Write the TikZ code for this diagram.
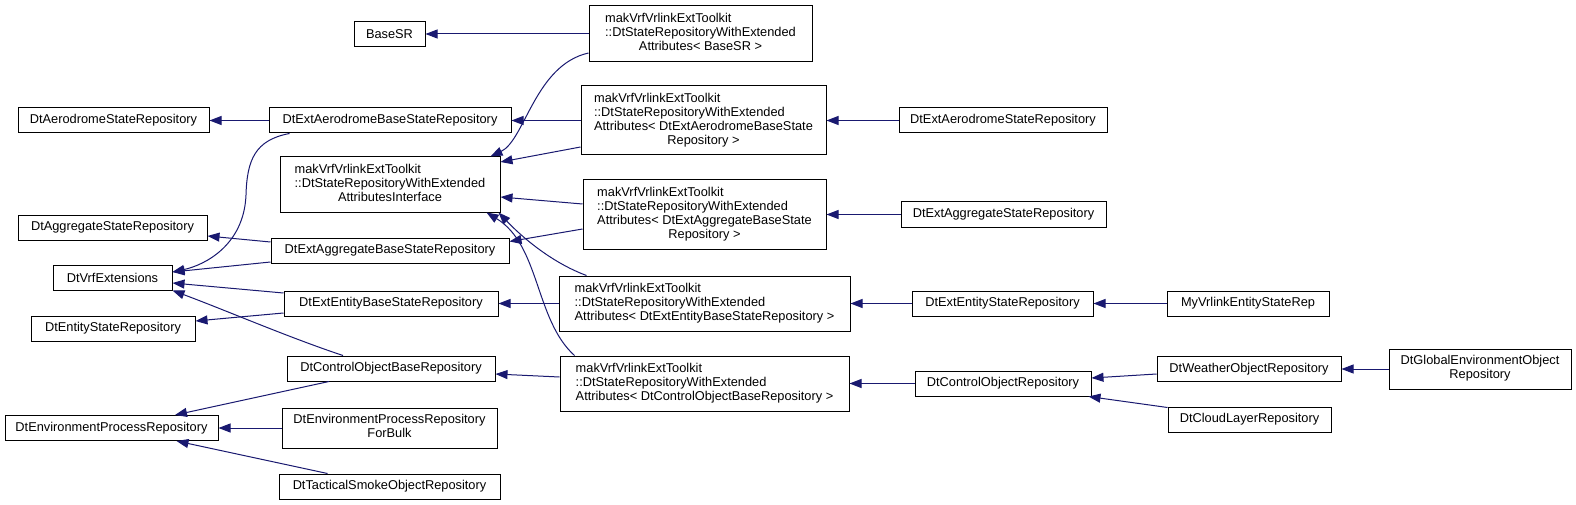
\documentclass[tikz,border=0pt]{standalone}
\usepackage{fontspec}
\setmainfont{Liberation Sans}
\usetikzlibrary{arrows.meta}
\definecolor{edgeblue}{RGB}{25,25,112}
\newcommand{\midline}[1]{\multicolumn{1}{@{}c@{}}{#1}}
\newcommand{\tplbox}[1]{\begin{tabular}{@{}l@{}}makVrfVrlinkExtToolkit\\::DtStateRepositoryWithExtended\\#1\end{tabular}}

\begin{document}
\begin{tikzpicture}[x=1pt, y=-1pt,
    cls/.style={draw=black, fill=white, line width=1pt, inner sep=0pt,
      minimum height=25pt, font=\fontsize{12.8}{14}\selectfont},
    inh/.style={draw=edgeblue, line width=1pt,
      -{Triangle[length=12pt, width=9pt]}}]
          \useasboundingbox (0,0) rectangle (1576,505);
          \fill[white] (0,0) rectangle (1576,505);
          \node[cls, minimum width=71pt] (basesr) at (389.5,34) {BaseSR};
          \node[cls, minimum width=223pt, minimum height=56pt] (tplbase) at (700.5,34)
            {\tplbox{\midline{Attributes< BaseSR >}}};
          \node[cls, minimum width=191pt] (aerostate) at (113.5,120.5)
            {DtAerodromeStateRepository};
          \node[cls, minimum width=242pt] (aerobase) at (390,120.5)
            {DtExtAerodromeBaseStateRepository};
          \node[cls, minimum width=245pt, minimum height=69pt] (tplaero) at (703.5,120.5)
            {\tplbox{Attributes< DtExtAerodromeBaseState\\\midline{Repository >}}};
          \node[cls, minimum width=208pt] (extaero) at (1003,120.5)
            {DtExtAerodromeStateRepository};
          \node[cls, minimum width=220pt, minimum height=55pt] (iface) at (390,184.5)
            {\tplbox{\midline{AttributesInterface}}};
          \node[cls, minimum width=189pt] (aggstate) at (112.5,227.5)
            {DtAggregateStateRepository};
          \node[cls, minimum width=238pt] (aggbase) at (390,250.5)
            {DtExtAggregateBaseStateRepository};
          \node[cls, minimum width=243pt, minimum height=69pt] (tplagg) at (704.5,214.5)
            {\tplbox{Attributes< DtExtAggregateBaseState\\\midline{Repository >}}};
          \node[cls, minimum width=205pt] (extagg) at (1003.5,214.5)
            {DtExtAggregateStateRepository};
          \node[cls, minimum width=119pt] (vrfext) at (112.5,277.5)
            {DtVrfExtensions};
          \node[cls, minimum width=214pt] (entbase) at (391,303.5)
            {DtExtEntityBaseStateRepository};
          \node[cls, minimum width=164pt] (entstate) at (113,328.5)
            {DtEntityStateRepository};
          \node[cls, minimum width=291pt, minimum height=55pt] (tplent) at (704.5,303.5)
            {\tplbox{Attributes< DtExtEntityBaseStateRepository >}};
          \node[cls, minimum width=181pt] (extent) at (1002.5,303.5)
            {DtExtEntityStateRepository};
          \node[cls, minimum width=162pt] (myent) at (1248,303.5)
            {MyVrlinkEntityStateRep};
          \node[cls, minimum width=208pt] (ctlbase) at (391,368.5)
            {DtControlObjectBaseRepository};
          \node[cls, minimum width=289pt, minimum height=55pt] (tplctl) at (704.5,383.5)
            {\tplbox{Attributes< DtControlObjectBaseRepository >}};
          \node[cls, minimum width=176pt] (ctlrepo) at (1003,383.5)
            {DtControlObjectRepository};
          \node[cls, minimum width=184pt] (weather) at (1249,369)
            {DtWeatherObjectRepository};
          \node[cls, minimum width=182pt, minimum height=40pt] (globenv) at (1480,369)
            {\begin{tabular}{@{}c@{}}DtGlobalEnvironmentObject\\Repository\end{tabular}};
          \node[cls, minimum width=163pt] (cloud) at (1249.5,419.5)
            {DtCloudLayerRepository};
          \node[cls, minimum width=213pt] (envproc) at (111.5,428)
            {DtEnvironmentProcessRepository};
          \node[cls, minimum width=215pt, minimum height=40pt] (forbulk) at (389.5,428)
            {\begin{tabular}{@{}l@{}}DtEnvironmentProcessRepository\\\midline{ForBulk}\end{tabular}};
          \node[cls, minimum width=221pt] (smoke) at (389.5,486.5)
            {DtTacticalSmokeObjectRepository};
          \draw[inh] (tplbase) -- (basesr);
          \draw[inh] ([yshift=-19pt]tplbase.west) .. controls (535,65) and (525,140)
            .. ([xshift=-10pt]iface.north east);
          \draw[inh] (aerobase) -- (aerostate);
          \draw[inh] ([xshift=21pt]aerobase.south west) .. controls (255,140) and (247,160)
            .. (246,195) .. controls (244,245) and (205,265) .. ([yshift=5.5pt]vrfext.east);
          \draw[inh] (tplaero) -- (aerobase);
          \draw[inh] ([yshift=-26.5pt]tplaero.west) -- ([yshift=22.5pt]iface.east);
          \draw[inh] (extaero) -- (tplaero);
          \draw[inh] ([yshift=10.5pt]tplagg.west) -- ([yshift=-12.5pt]iface.east);
          \draw[inh] ([yshift=-14.5pt]tplagg.west) -- ([yshift=9pt]aggbase.east);
          \draw[inh] (extagg) -- (tplagg);
          \draw[inh] ([yshift=8.5pt]aggbase.west) -- ([yshift=-8.5pt]aggstate.east);
          \draw[inh] ([yshift=-11.5pt]aggbase.west) -- ([yshift=5.5pt]vrfext.east);
          \draw[inh] ([yshift=10.5pt]entbase.west) -- ([yshift=-5.5pt]vrfext.east);
          \draw[inh] ([yshift=-9.5pt]entbase.west) -- ([yshift=7.5pt]entstate.east);
          \draw[inh] (tplent) -- (entbase);
          \draw[inh] ([xshift=28pt]tplent.north west) .. controls (550,262) and (520,235)
            .. ([xshift=-2pt]iface.south east);
          \draw[inh] (extent) -- (tplent);
          \draw[inh] (myent) -- (extent);
          \draw[inh] ([xshift=-48pt]ctlbase.north) .. controls (290,338) and (225,310)
            .. (vrfext.south east);
          \draw[inh] ([xshift=-62pt]ctlbase.south) -- ([xshift=63.5pt]envproc.north);
          \draw[inh] ([yshift=6.5pt]tplctl.west) -- ([yshift=-5.5pt]ctlbase.east);
          \draw[inh] ([xshift=15pt]tplctl.north west) .. controls (535,320) and (540,245)
            .. ([xshift=-14pt]iface.south east);
          \draw[inh] (ctlrepo) -- (tplctl);
          \draw[inh] ([yshift=-5pt]weather.west) -- ([yshift=5.5pt]ctlrepo.east);
          \draw[inh] ([yshift=-1pt]cloud.north west) -- ([xshift=-3pt]ctlrepo.south east);
          \draw[inh] (globenv) -- (weather);
          \draw[inh] (forbulk) -- (envproc);
          \draw[inh] ([xshift=-62pt]smoke.north) -- ([xshift=65pt]envproc.south);
        \end{tikzpicture}
\end{document}
